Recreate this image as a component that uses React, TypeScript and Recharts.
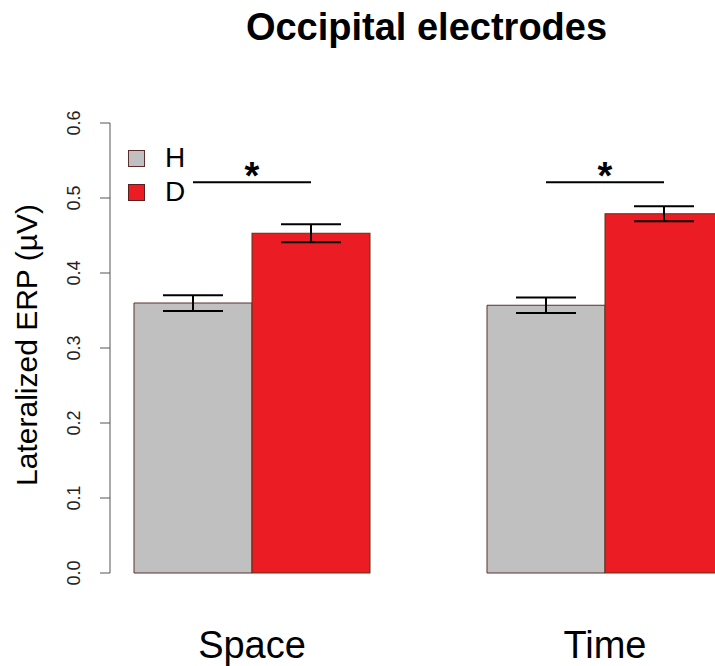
import React from 'react';
import { BarChart, Bar, XAxis, YAxis, ErrorBar, Legend } from 'recharts';

// conditions on the x axis
const categories = ['Space', 'Time'];
// mean lateralized ERP per group
const hValues = [0.36, 0.357];
const dValues = [0.453, 0.479];
// standard errors
const hErrors = [0.0105, 0.0103];
const dErrors = [0.012, 0.01];
// height of the significance bracket
const sigLevels = [0.521, 0.521];
const yTicks = [0, 0.1, 0.2, 0.3, 0.4, 0.5, 0.6];

const data = categories.map((name, i) => ({
  name,
  h: hValues[i],
  d: dValues[i],
  hErr: hErrors[i],
  dErr: dErrors[i],
  sig: sigLevels[i],
}));

const FONT = '"Liberation Sans", Arial, Helvetica, sans-serif';
const GRAY = '#c0c0c0';
const RED = '#ec1c24';

const YTick = (props: any) => {
  const { x, y, payload } = props;
  return (
    <text
      transform={`translate(${x - 18},${y}) rotate(-90)`}
      textAnchor="middle"
      fontFamily={FONT}
      fontSize={18}
      fill="#222"
    >
      {Number(payload.value).toFixed(1)}
    </text>
  );
};

const XTick = (props: any) => {
  const { x, y, payload } = props;
  return (
    <text x={x} y={y + 85} textAnchor="middle" fontFamily={FONT} fontSize={38} fill="#000">
      {payload.value}
    </text>
  );
};

const YLabel = (props: any) => {
  const { viewBox } = props;
  const cy = viewBox.y + viewBox.height / 2 - 3;
  return (
    <text
      transform={`translate(37,${cy}) rotate(-90)`}
      textAnchor="middle"
      fontFamily={FONT}
      fontSize={30}
      fill="#000"
    >
      Lateralized ERP (µV)
    </text>
  );
};

// red bar plus the significance bracket spanning from the H bar centre to this one
const DBarShape = (props: any) => {
  const { x, y, width, height, payload } = props;
  const perUnit = height / payload.d;
  const base = y + height;
  const by = base - payload.sig * perUnit;
  const cx = x;
  return (
    <g>
      <rect x={x} y={y} width={width} height={height} fill={RED} stroke="#5a3510" strokeWidth={1} />
      <line x1={cx - width / 2} x2={cx + width / 2} y1={by} y2={by} stroke="#000" strokeWidth={2} />
      <text x={cx} y={by + 7} textAnchor="middle" fontFamily={FONT} fontWeight="bold" fontSize={38} fill="#000">
        *
      </text>
    </g>
  );
};

const LegendContent = () => {
  const items = [
    { label: 'H', fill: GRAY, stroke: '#5a2e2e' },
    { label: 'D', fill: RED, stroke: '#5a2020' },
  ];
  return (
    <div style={{ fontFamily: FONT }}>
      {items.map((it) => (
        <div key={it.label} style={{ display: 'flex', alignItems: 'center', height: 34 }}>
          <div
            style={{
              width: 15,
              height: 15,
              background: it.fill,
              border: `1px solid ${it.stroke}`,
              marginRight: 20,
            }}
          />
          <span style={{ fontSize: 28, lineHeight: '28px' }}>{it.label}</span>
        </div>
      ))}
    </div>
  );
};

export default function App() {
  return (
    <div
      style={{
        position: 'absolute',
        left: 0,
        top: 0,
        width: 715,
        height: 666,
        overflow: 'hidden',
        background: '#fff',
      }}
    >
      <div
        style={{
          position: 'absolute',
          left: 0,
          top: 8,
          width: 853,
          textAlign: 'center',
          fontFamily: FONT,
          fontWeight: 'bold',
          fontSize: 38,
          lineHeight: '38px',
        }}
      >
        Occipital electrodes
      </div>
      <BarChart
        width={820}
        height={666}
        data={data}
        margin={{ top: 123, right: 0, left: 0, bottom: 0 }}
        barCategoryGap={58.5}
        barGap={0}
      >
        <XAxis
          dataKey="name"
          height={93}
          axisLine={false}
          tickLine={false}
          tickSize={0}
          tickMargin={0}
          padding={{ left: -34.5, right: 38.5 }}
          tick={<XTick />}
          interval={0}
        />
        <YAxis
          width={110}
          domain={[0, 0.6]}
          ticks={yTicks}
          tickSize={10}
          tickMargin={2}
          axisLine={{ stroke: '#555', strokeWidth: 1 }}
          tickLine={{ stroke: '#555', strokeWidth: 1 }}
          tick={<YTick />}
          label={{ content: <YLabel /> }}
        />
        <Legend
          layout="vertical"
          align="center"
          verticalAlign="middle"
          wrapperStyle={{ left: 128, top: 141, width: 80 }}
          content={<LegendContent />}
        />
        <Bar dataKey="h" fill={GRAY} stroke="#5a2e2e" strokeWidth={1} isAnimationActive={false}>
          <ErrorBar dataKey="hErr" width={30} stroke="#000" strokeWidth={2} />
        </Bar>
        <Bar dataKey="d" fill={RED} shape={<DBarShape />} isAnimationActive={false}>
          <ErrorBar dataKey="dErr" width={30} stroke="#000" strokeWidth={2} />
        </Bar>
      </BarChart>
    </div>
  );
}
